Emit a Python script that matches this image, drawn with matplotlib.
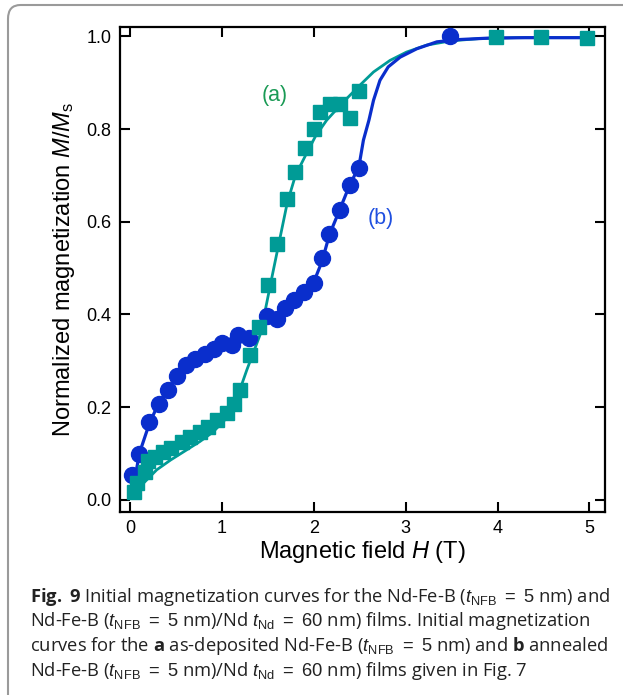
import matplotlib
matplotlib.use("Agg")
import matplotlib.pyplot as plt
from matplotlib.patches import FancyBboxPatch

# (a) as-deposited Nd-Fe-B: squares
h_a = [0.04, 0.08, 0.16, 0.20, 0.27, 0.36, 0.45, 0.56, 0.65, 0.76, 0.85, 0.95,
       1.05, 1.13, 1.20, 1.31, 1.40, 1.50, 1.60, 1.71, 1.80, 1.90, 2.00, 2.07,
       2.18, 2.29, 2.39, 2.49, 3.98, 4.47, 4.97]
m_a = [0.018, 0.036, 0.061, 0.083, 0.093, 0.104, 0.111, 0.126, 0.136, 0.147,
       0.158, 0.172, 0.187, 0.208, 0.237, 0.312, 0.373, 0.463, 0.552, 0.650,
       0.708, 0.758, 0.801, 0.837, 0.855, 0.855, 0.823, 0.881, 0.998, 0.998,
       0.997]

# (b) annealed Nd-Fe-B/Nd: circles
h_b = [0.02, 0.10, 0.21, 0.31, 0.41, 0.51, 0.61, 0.71, 0.82, 0.91, 1.00, 1.11,
       1.18, 1.29, 1.49, 1.60, 1.69, 1.78, 1.89, 2.00, 2.09, 2.17, 2.28, 2.39,
       2.49, 3.48]
m_b = [0.054, 0.100, 0.169, 0.208, 0.237, 0.267, 0.290, 0.305, 0.314, 0.325,
       0.338, 0.335, 0.356, 0.350, 0.397, 0.390, 0.413, 0.431, 0.449, 0.467,
       0.521, 0.573, 0.625, 0.679, 0.715, 1.000]

# fitted curves
fit_h_a = [0.02, 0.08, 0.145, 0.29, 0.44, 0.60, 0.76, 0.90, 1.02, 1.13, 1.27,
           1.42, 1.56, 1.71, 1.80, 1.92, 2.02, 2.14, 2.26, 2.36, 2.45, 2.52,
           2.65, 2.83, 3.01, 3.23, 3.49, 3.80, 4.20, 4.60, 5.00]
fit_m_a = [0.008, 0.022, 0.036, 0.065, 0.086, 0.106, 0.126, 0.146, 0.170,
           0.201, 0.280, 0.359, 0.496, 0.640, 0.700, 0.747, 0.785, 0.819,
           0.845, 0.866, 0.884, 0.898, 0.923, 0.948, 0.966, 0.981, 0.990,
           0.995, 0.997, 0.997, 0.997]
fit_h_b = [0.02, 0.10, 0.21, 0.31, 0.41, 0.51, 0.61, 0.71, 0.82, 0.91, 1.00,
           1.11, 1.20, 1.30, 1.40, 1.50, 1.60, 1.70, 1.80, 1.90, 2.00, 2.09,
           2.17, 2.28, 2.39, 2.49, 2.54, 2.60, 2.65, 2.72, 2.81, 2.94, 3.12,
           3.34, 3.59, 3.90, 4.30, 4.90]
fit_m_b = [0.008, 0.100, 0.165, 0.208, 0.237, 0.265, 0.287, 0.303, 0.316,
           0.326, 0.334, 0.342, 0.350, 0.358, 0.370, 0.384, 0.398, 0.414,
           0.431, 0.449, 0.470, 0.515, 0.572, 0.625, 0.679, 0.718, 0.776,
           0.819, 0.862, 0.905, 0.934, 0.955, 0.973, 0.988, 0.993, 0.996,
           0.997, 0.997]

x_ticks = [0, 1, 2, 3, 4, 5]
y_ticks = [0.0, 0.2, 0.4, 0.6, 0.8, 1.0]

caption_lines = [
    r"$\mathbf{Fig.}$ $\mathbf{9}$ Initial magnetization curves for the Nd-Fe-B ($t_{\mathrm{NFB}}\ =\ 5$ nm) and",
    r"Nd-Fe-B ($t_{\mathrm{NFB}}\ =\ 5$ nm)/Nd $t_{\mathrm{Nd}}\ =\ 60$ nm) films. Initial magnetization",
    r"curves for the $\mathbf{a}$ as-deposited Nd-Fe-B ($t_{\mathrm{NFB}}\ =\ 5$ nm) and $\mathbf{b}$ annealed",
    r"Nd-Fe-B ($t_{\mathrm{NFB}}\ =\ 5$ nm)/Nd $t_{\mathrm{Nd}}\ =\ 60$ nm) films given in Fig. 7",
]

teal = "#009b96"
blue = "#0a2ecc"

plt.rcParams["font.family"] = ["Liberation Sans", "DejaVu Sans"]
plt.rcParams["mathtext.fontset"] = "custom"
plt.rcParams["mathtext.rm"] = "Liberation Sans"
plt.rcParams["mathtext.it"] = "Liberation Sans:italic"
plt.rcParams["mathtext.bf"] = "Open Sans:bold"

W, H = 623, 695
fig = plt.figure(figsize=(W / 100, H / 100), dpi=100)

# grey rounded frame around figure and caption
frame = FancyBboxPatch((8 / W, -0.2), 1.2, 1.2 - 5 / H,
                       boxstyle="round,pad=0,rounding_size=0.02",
                       transform=fig.transFigure, facecolor="none",
                       edgecolor="#9a9a9a", linewidth=1.5, clip_on=False,
                       zorder=-1)
fig.patches.append(frame)

ax = fig.add_axes([120 / W, 1 - 512 / H, 485 / W, 485 / H])
ax.set_facecolor("none")

ax.plot(fit_h_a, fit_m_a, color=teal, lw=2.0, zorder=2)
ax.plot(fit_h_b, fit_m_b, color=blue, lw=2.3, zorder=3)
ax.plot(h_b, m_b, "o", color=blue, ms=11.5, mec=blue, zorder=4)
ax.plot(h_a, m_a, "s", color=teal, ms=10.5, mec=teal, zorder=5)

ax.set_xlim(-0.11, 5.17)
ax.set_ylim(-0.026, 1.02)
ax.set_xticks(x_ticks)
ax.set_yticks(y_ticks)
ax.set_yticklabels([f"{v:.1f}" for v in y_ticks])
ax.tick_params(direction="in", length=7, width=1.5, labelsize=13,
               top=True, right=True, pad=6)
for s in ax.spines.values():
    s.set_linewidth(1.6)

ax.set_xlabel(r"Magnetic field $H$ (T)", fontsize=17, labelpad=1)
ax.set_ylabel(r"Normalized magnetization $M$/$M_{\mathrm{s}}$", fontsize=17,
              labelpad=7)

ax.text(1.43, 0.86, "(a)", color="#1a9a55", fontsize=15.5)
ax.text(2.59, 0.595, "(b)", color="#1f4fe0", fontsize=15.5)

for i, line in enumerate(caption_lines):
    fig.text(30 / W, 1 - (602 + 24.5 * i) / H, line, fontsize=13.2,
             family="Open Sans", color="#222222", va="baseline", ha="left")

fig.savefig("out.png", dpi=100)
